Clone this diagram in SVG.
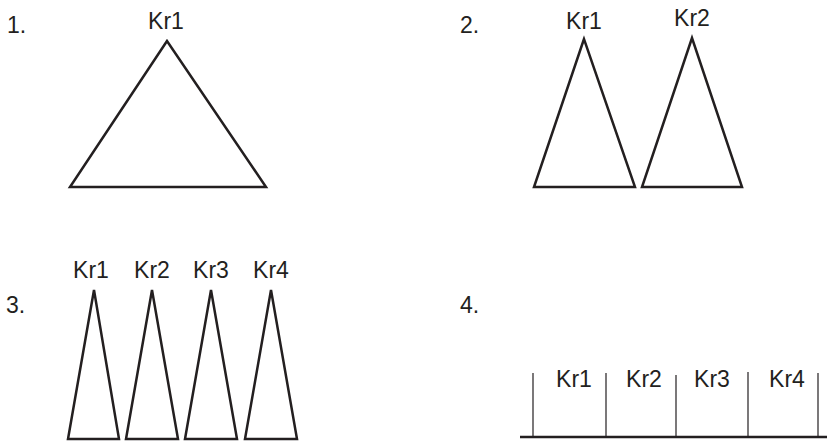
<svg xmlns="http://www.w3.org/2000/svg" width="827" height="441" viewBox="0 0 827 441">
<style>
text{font-family:"Liberation Sans",Arial,sans-serif;font-size:23px;fill:#231f20}
.lbl{text-anchor:middle}
.tri{fill:none;stroke:#231f20;stroke-width:2.5;stroke-linejoin:miter}
.tick{stroke:#231f20;stroke-width:1.2}
.base{stroke:#231f20;stroke-width:2.5}
</style>
<rect width="827" height="441" fill="#fff"/>
<g id="panel1">
<text x="7" y="33">1.</text>
<g id="p1-kr1"><text class="lbl" x="166" y="29">Kr1</text><polygon class="tri" points="167,41 70,187 266,187"/></g>
</g>
<g id="panel2">
<text x="460" y="33">2.</text>
<g id="p2-kr1"><text class="lbl" x="584" y="29">Kr1</text><polygon class="tri" points="584,39 534,187 635,187"/></g>
<g id="p2-kr2"><text class="lbl" x="692" y="26">Kr2</text><polygon class="tri" points="692,38 642,187 742,187"/></g>
</g>
<g id="panel3">
<text x="6" y="313">3.</text>
<g id="p3-kr1"><text class="lbl" x="91" y="278">Kr1</text><polygon class="tri" points="94,290 68,439 119,439"/></g>
<g id="p3-kr2"><text class="lbl" x="152" y="278">Kr2</text><polygon class="tri" points="152,290 126,439 178,439"/></g>
<g id="p3-kr3"><text class="lbl" x="211" y="278">Kr3</text><polygon class="tri" points="211,290 185,439 237,439"/></g>
<g id="p3-kr4"><text class="lbl" x="271" y="278">Kr4</text><polygon class="tri" points="271,290 245,439 297,439"/></g>
</g>
<g id="panel4">
<text x="460" y="313">4.</text>
<line class="base" x1="520" y1="437" x2="827" y2="437"/>
<line class="tick" x1="533" y1="373" x2="533" y2="437"/>
<line class="tick" x1="606" y1="373" x2="606" y2="437"/>
<line class="tick" x1="676" y1="375" x2="676" y2="437"/>
<line class="tick" x1="748" y1="372" x2="748" y2="437"/>
<line class="tick" x1="818" y1="373" x2="818" y2="437"/>
<g id="p4-kr1"><text class="lbl" x="574" y="387">Kr1</text></g>
<g id="p4-kr2"><text class="lbl" x="644" y="387">Kr2</text></g>
<g id="p4-kr3"><text class="lbl" x="712" y="387">Kr3</text></g>
<g id="p4-kr4"><text class="lbl" x="787" y="387">Kr4</text></g>
</g>
</svg>
